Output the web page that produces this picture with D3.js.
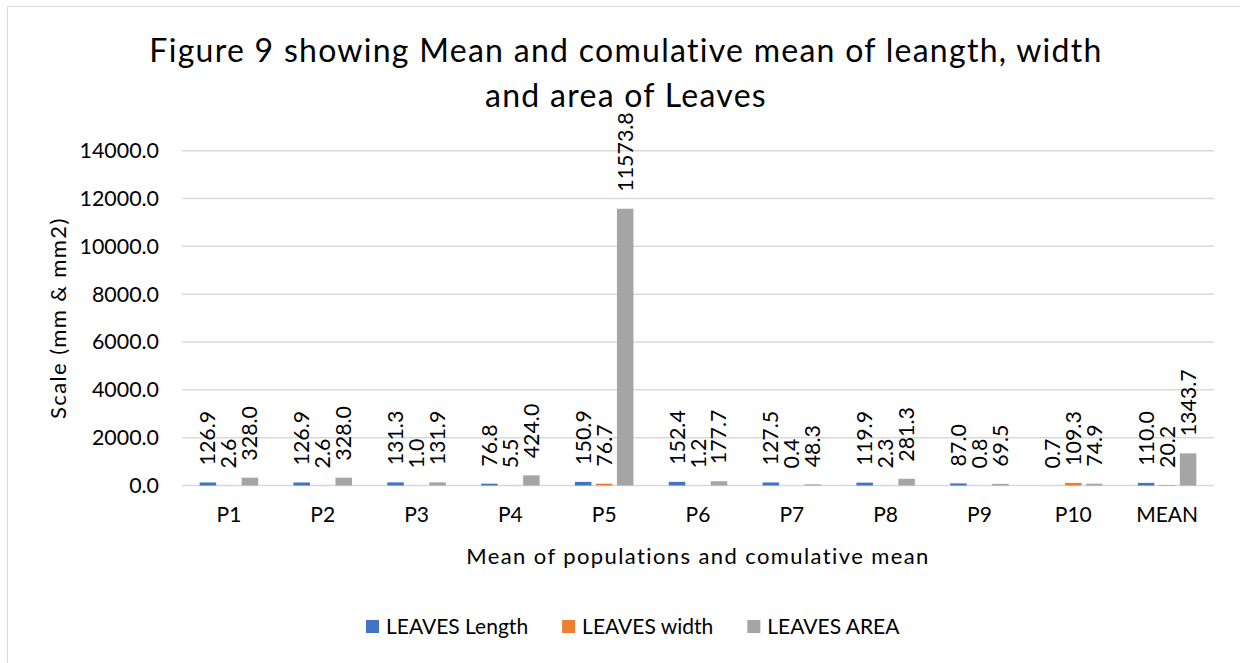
<!DOCTYPE html>
<html>
<head>
<meta charset="utf-8">
<script src="https://cdn.jsdelivr.net/npm/d3@7"></script>
<style>
  body { margin: 0; background: #fff; }
  svg text { font-family: Lato, 'Open Sans', sans-serif; fill: #000; }
</style>
</head>
<body>
<div id="chart"></div>
<script>
// data
var categories = ['P1', 'P2', 'P3', 'P4', 'P5', 'P6', 'P7', 'P8', 'P9', 'P10', 'MEAN'];
var series = ['LEAVES Length', 'LEAVES width', 'LEAVES AREA'];
var leavesLength = [126.9, 126.9, 131.3, 76.8, 150.9, 152.4, 127.5, 119.9, 87.0, 0.7, 110.0];
var leavesWidth = [2.6, 2.6, 1.0, 5.5, 76.7, 1.2, 0.4, 2.3, 0.8, 109.3, 20.2];
var leavesArea = [328.0, 328.0, 131.9, 424.0, 11573.8, 177.7, 48.3, 281.3, 69.5, 74.9, 1343.7];
var yTicks = [0, 2000, 4000, 6000, 8000, 10000, 12000, 14000];
var colors = ['#4472C4', '#ED7D31', '#A5A5A5'];
var titleLines = ['Figure 9 showing Mean and comulative mean of leangth, width', 'and area of Leaves'];

var values = [leavesLength, leavesWidth, leavesArea];
var rows = categories.map(function (c, i) {
    return series.map(function (s, k) { return { cat: c, series: s, k: k, value: values[k][i] }; });
});

var W = 1240, H = 663;
var svg = d3.select('#chart').append('svg')
    .attr('width', W)
    .attr('height', H);

// chart border (right/bottom fall outside the picture)
svg.append('rect')
    .attr('x', 7.5).attr('y', 6.5)
    .attr('width', W + 20).attr('height', H + 20)
    .attr('fill', '#fff')
    .attr('stroke', '#d9d9d9');

var plot = { left: 182, right: 1214, top: 150.7, bottom: 485.5 };

var x = d3.scaleBand().domain(categories).range([plot.left, plot.right]);
var x1 = d3.scaleBand().domain(series).range([0, 58.5]).paddingInner(0.214);
var y = d3.scaleLinear().domain([0, 14000]).range([plot.bottom, plot.top]);

// grid
svg.append('g').selectAll('line')
    .data(yTicks)
    .enter().append('line')
    .attr('x1', plot.left).attr('x2', plot.right)
    .attr('y1', function (d) { return y(d); })
    .attr('y2', function (d) { return y(d); })
    .attr('stroke', '#d9d9d9')
    .attr('stroke-width', 1.5);

// y axis labels
var yAxis = d3.axisLeft(y).tickValues(yTicks).tickFormat(d3.format('.1f')).tickSize(0).tickPadding(23);
svg.append('g')
    .attr('transform', 'translate(' + plot.left + ',0)')
    .call(yAxis)
    .call(function (g) { g.select('.domain').remove(); })
    .selectAll('text')
    .style('font-size', '21.4px')
    .style('font-family', 'Lato, sans-serif')
    .attr('fill', '#000');

// x axis labels
var xAxis = d3.axisBottom(x).tickSize(0).tickPadding(22);
svg.append('g')
    .attr('transform', 'translate(0,' + plot.bottom + ')')
    .call(xAxis)
    .call(function (g) { g.select('.domain').remove(); })
    .selectAll('text')
    .style('font-size', '21px')
    .style('font-family', 'Lato, sans-serif')
    .attr('fill', '#000');

// bars
var groups = svg.append('g').selectAll('g')
    .data(rows)
    .enter().append('g')
    .attr('transform', function (d) { return 'translate(' + (x(d[0].cat) + x.bandwidth() / 2 - 29.25) + ',0)'; });

groups.selectAll('rect')
    .data(function (d) { return d; })
    .enter().append('rect')
    .attr('x', function (d) { return x1(d.series); })
    .attr('width', x1.bandwidth())
    .attr('y', function (d) { return y(d.value); })
    .attr('height', function (d) { return plot.bottom - y(d.value); })
    .attr('fill', function (d) { return colors[d.k]; });

// value labels, rotated
groups.selectAll('text')
    .data(function (d) { return d; })
    .enter().append('text')
    .attr('transform', function (d) {
        return 'translate(' + (x1(d.series) + x1.bandwidth() / 2) + ',' + (y(d.value) - 17) + ') rotate(-90)';
    })
    .attr('dy', '0.35em')
    .style('font-size', '21.4px')
    .text(function (d) { return d3.format('.1f')(d.value); });

// title
svg.append('g').selectAll('text')
    .data(titleLines)
    .enter().append('text')
    .attr('x', 626)
    .attr('y', function (d, i) { return 62 + i * 45; })
    .attr('text-anchor', 'middle')
    .style('font-size', '32px')
    .style('letter-spacing', '1.28px')
    .text(function (d) { return d; });

// axis titles
svg.append('text')
    .attr('transform', 'translate(58,' + ((plot.top + plot.bottom) / 2) + ') rotate(-90)')
    .attr('text-anchor', 'middle')
    .attr('dy', '0.35em')
    .style('font-size', '22px')
    .style('letter-spacing', '1.4px')
    .text('Scale (mm & mm2)');

svg.append('text')
    .attr('x', (plot.left + plot.right) / 2)
    .attr('y', 564)
    .attr('text-anchor', 'middle')
    .style('font-size', '22px')
    .style('letter-spacing', '1.4px')
    .text('Mean of populations and comulative mean');

// legend
var legend = svg.append('g').attr('transform', 'translate(0,634)');
var lx = 366;
series.forEach(function (s, k) {
    legend.append('rect')
        .attr('x', lx).attr('y', -14)
        .attr('width', 13).attr('height', 13)
        .attr('fill', colors[k]);
    var t = legend.append('text')
        .attr('x', lx + 20)
        .style('font-size', '21px')
        .text(s);
    lx += 20 + t.node().getComputedTextLength() + 34;
});
</script>
</body>
</html>
